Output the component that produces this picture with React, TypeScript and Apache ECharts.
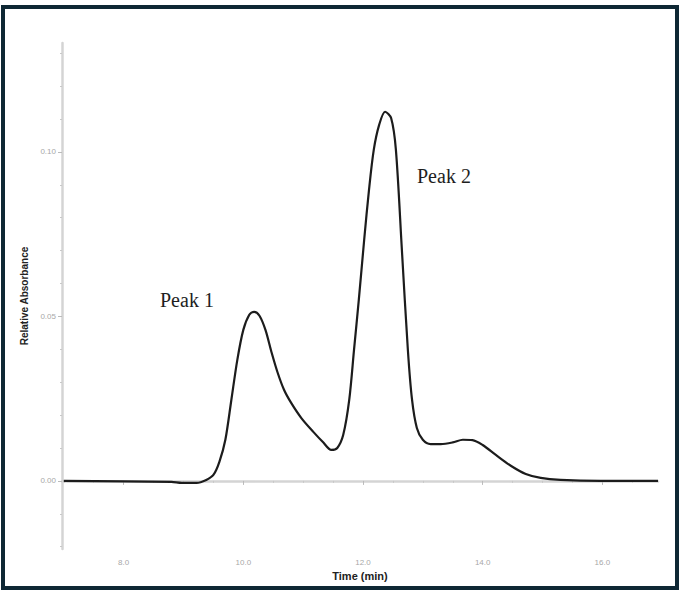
import React, { useEffect, useRef } from "react";
import * as echarts from "echarts";

const timeMin = [
  7.0, 8.8, 8.97, 9.22, 9.38, 9.5, 9.6, 9.7, 9.8, 9.9, 10.0, 10.1, 10.18, 10.27, 10.37, 10.47,
  10.57, 10.68, 10.8, 10.97, 11.17, 11.33, 11.47, 11.57, 11.67, 11.77, 11.85, 11.93, 12.02,
  12.1, 12.18, 12.27, 12.37, 12.47, 12.55, 12.65, 12.75, 12.82, 12.9, 13.0, 13.13, 13.3,
  13.5, 13.67, 13.83, 14.0, 14.22, 14.47, 14.72, 14.97, 15.3, 15.97, 16.93,
];
const absorbance = [
  0.0, -0.0003, -0.0006, -0.0006, 0.0003, 0.0018, 0.0058, 0.0125, 0.0246, 0.0368, 0.0459,
  0.0505, 0.0514, 0.0502, 0.0459, 0.0392, 0.0331, 0.0277, 0.0237, 0.0191, 0.0149, 0.0118,
  0.0094, 0.01, 0.014, 0.0246, 0.0398, 0.055, 0.0733, 0.0884, 0.1006, 0.1082, 0.1122,
  0.1103, 0.1006, 0.0702, 0.0398, 0.0246, 0.0161, 0.0125, 0.0112, 0.0112, 0.0117, 0.0125,
  0.0124, 0.0109, 0.0079, 0.0046, 0.0021, 0.0009, 0.0003, 0.0, 0.0,
];
const xMajorTicks = [8, 10, 12, 14, 16];
const xMinorTicks = [7, 7.5, 8.5, 9, 9.5, 10.5, 11, 11.5, 12.5, 13, 13.5, 14.5, 15, 15.5, 16.5];
const yMajorTicks = [0, 0.05, 0.1];
const yMinorTicks = [-0.02, -0.01, 0.01, 0.02, 0.03, 0.04, 0.06, 0.07, 0.08, 0.09, 0.11, 0.12, 0.13];
const peakLabels = ["Peak 1", "Peak 2"];

const X_MIN = 6.97;
const X_MAX = 16.93;
const Y_MIN = -0.0207;
const Y_MAX = 0.1331;

export default function App() {
  const ref = useRef<HTMLDivElement>(null);
  useEffect(() => {
    if (!ref.current) return;
    const chart = echarts.init(ref.current, null, { renderer: "svg" });
    const data = timeMin.map((t, i) => [t, absorbance[i]]);
    const axisGray = "#d4d4d4";
    const labelGray = "#a8a8a8";
    chart.setOption({
      animation: false,
      backgroundColor: "#ffffff",
      grid: { left: 62, right: 21, top: 43, bottom: 44 },
      xAxis: [
        {
          type: "value",
          min: X_MIN,
          max: X_MAX,
          name: "Time (min)",
          nameLocation: "middle",
          nameGap: 20,
          nameTextStyle: { fontFamily: "Liberation Sans", fontWeight: "bold", fontSize: 11, color: "#222" },
          axisLine: { show: true, lineStyle: { color: axisGray, width: 2.5 } },
          axisTick: { show: true, customValues: xMajorTicks, length: 4, lineStyle: { color: "#bbb" } },
          axisLabel: {
            customValues: xMajorTicks,
            formatter: (v: number) => v.toFixed(1),
            fontSize: 8,
            color: labelGray,
            margin: 9,
            fontFamily: "Liberation Sans",
          },
          splitLine: { show: false },
        },
        {
          type: "value",
          min: X_MIN,
          max: X_MAX,
          position: "bottom",
          axisLine: { show: false },
          axisTick: { show: true, customValues: xMinorTicks, length: 2, lineStyle: { color: "#c8c8c8" } },
          axisLabel: { show: false, customValues: xMinorTicks },
          splitLine: { show: false },
        },
      ],
      yAxis: [
        {
          type: "value",
          min: Y_MIN,
          max: Y_MAX,
          name: "Relative Absorbance",
          nameLocation: "middle",
          nameGap: 27,
          nameTextStyle: { fontFamily: "Liberation Sans", fontWeight: "bold", fontSize: 10, color: "#222" },
          axisLine: { show: true, lineStyle: { color: axisGray, width: 2.5 } },
          axisTick: { show: true, customValues: yMajorTicks, length: 4, lineStyle: { color: "#bbb" } },
          axisLabel: {
            customValues: yMajorTicks,
            formatter: (v: number) => v.toFixed(2),
            fontSize: 8,
            color: labelGray,
            margin: 6,
            fontFamily: "Liberation Sans",
          },
          splitLine: { show: false },
        },
        {
          type: "value",
          min: Y_MIN,
          max: Y_MAX,
          position: "left",
          axisLine: { show: false },
          axisTick: { show: true, customValues: yMinorTicks, length: 2, lineStyle: { color: "#c8c8c8" } },
          axisLabel: { show: false, customValues: yMinorTicks },
          splitLine: { show: false },
        },
      ],
      series: [
        {
          type: "line",
          xAxisIndex: 0,
          yAxisIndex: 0,
          data,
          smooth: 0.3,
          showSymbol: false,
          lineStyle: { color: "#1c1c1c", width: 2.2 },
        },
      ],
      graphic: [
        {
          type: "rect",
          shape: { x: 3, y: 7, width: 674, height: 581 },
          style: { fill: "none", stroke: "#0e2734", lineWidth: 4 },
          silent: true,
        },
        {
          type: "text",
          x: 160,
          y: 300,
          style: {
            text: peakLabels[0],
            fontFamily: "Liberation Serif",
            fontSize: 20,
            fill: "#1e1e1e",
            verticalAlign: "middle",
          },
        },
        {
          type: "text",
          x: 417,
          y: 176,
          style: {
            text: peakLabels[1],
            fontFamily: "Liberation Serif",
            fontSize: 20,
            fill: "#1e1e1e",
            verticalAlign: "middle",
          },
        },
      ],
    });
    return () => chart.dispose();
  }, []);
  return (
    <div
      ref={ref}
      style={{ position: "absolute", left: 0, top: 0, width: 679, height: 593 }}
    />
  );
}
